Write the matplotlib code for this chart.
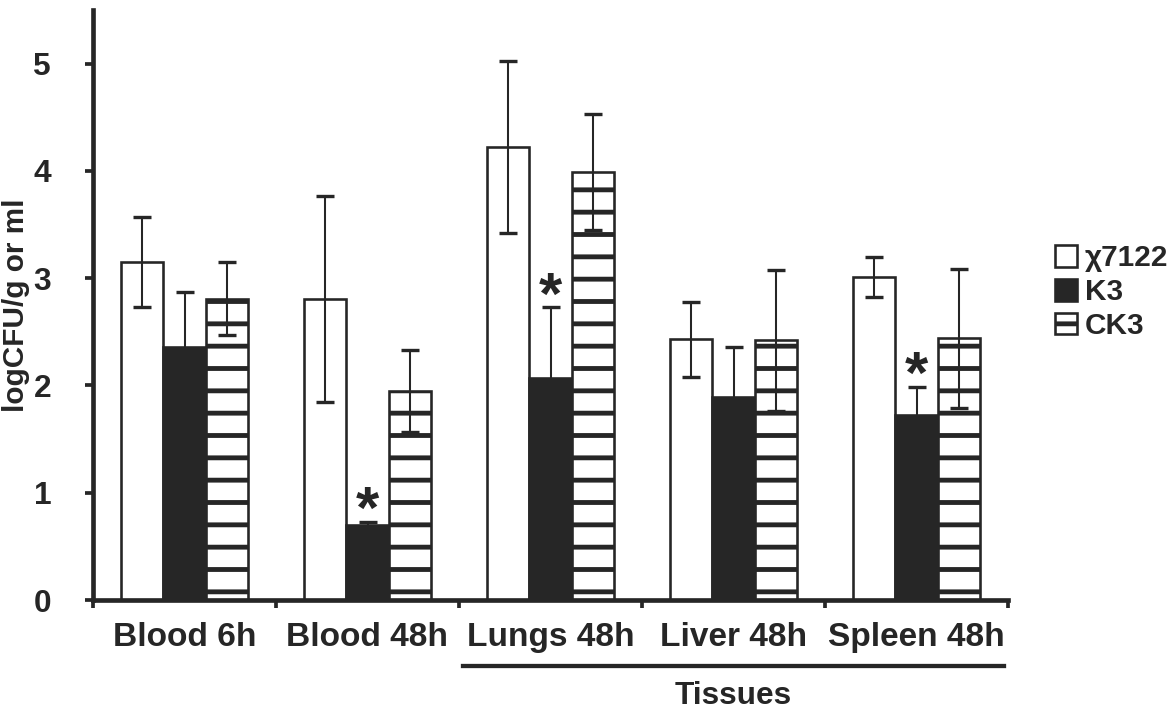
import matplotlib
matplotlib.use('Agg')
import matplotlib.pyplot as plt
import matplotlib.transforms as mtrans
import numpy as np

# data (logCFU/g or ml, mean and error)
categories = ['Blood 6h', 'Blood 48h', 'Lungs 48h', 'Liver 48h', 'Spleen 48h']
strains = ['χ7122', 'K3', 'CK3']

wt_mean = [3.15, 2.81, 4.22, 2.43, 3.01]
wt_err = [0.42, 0.96, 0.80, 0.35, 0.19]
k3_mean = [2.36, 0.70, 2.07, 1.89, 1.72]
k3_err = [0.51, 0.03, 0.66, 0.47, 0.27]
ck3_mean = [2.81, 1.95, 3.99, 2.42, 2.44]
ck3_err = [0.34, 0.38, 0.54, 0.66, 0.65]

signif = [False, True, True, False, True]   # star above K3 bar
yticks = [0, 1, 2, 3, 4, 5]
tissues = categories[2:]

ink = '#262626'
DPI = 134

plt.rcParams['font.family'] = ['Liberation Sans', 'DejaVu Sans']
plt.rcParams['font.weight'] = 'bold'
plt.rcParams['hatch.linewidth'] = 2.6

fig = plt.figure(figsize=(1176 / DPI, 710 / DPI), dpi=DPI)
ax = fig.add_axes([93 / 1176, 1 - 600 / 710, (1008 - 93) / 1176, 590 / 710])

x = np.arange(len(categories))
w = 0.23
means = [wt_mean, k3_mean, ck3_mean]
errs = [wt_err, k3_err, ck3_err]
faces = ['white', ink, 'white']
hatches = [None, None, '-']

for i in range(3):
    pos = x + (i - 1) * w
    ax.bar(pos, means[i], w, facecolor=faces[i], edgecolor=ink, linewidth=1.4,
           hatch=hatches[i], label=strains[i], zorder=2)
    ax.errorbar(pos, means[i], yerr=errs[i], fmt='none', ecolor=ink,
                elinewidth=1.1, capsize=5, capthick=1.8, zorder=3)

# significance stars over the K3 bars
for xi, s, m, e in zip(x, signif, k3_mean, k3_err):
    if s:
        ax.text(xi, m + e - 0.17, '*', ha='center', va='bottom',
                fontsize=32, color=ink, zorder=4)

ax.set_xlim(-0.5, len(categories) - 0.5)
ax.set_ylim(0, 5.5)
for sp in ['top', 'right']:
    ax.spines[sp].set_visible(False)
for sp in ['left', 'bottom']:
    ax.spines[sp].set_linewidth(2.5)
    ax.spines[sp].set_color(ink)

ax.set_xticks(np.arange(-0.5, len(categories), 1))
ax.set_xticklabels([])
ax.set_xticks(x, minor=True)
ax.set_xticklabels(categories, minor=True)
ax.tick_params(axis='x', which='major', length=4.5, width=2, color=ink)
ax.tick_params(axis='x', which='minor', length=0, pad=12, labelsize=18,
               labelcolor=ink)
ax.set_yticks(yticks)
ax.tick_params(axis='y', length=4.5, width=2, color=ink, pad=18,
               labelsize=17, labelcolor=ink)
ax.set_ylabel('logCFU/g or ml', fontsize=16, fontweight='bold', color=ink,
              labelpad=2)

# "Tissues" bracket under the last three groups
trans = mtrans.blended_transform_factory(ax.transData, ax.transAxes)
x0 = categories.index(tissues[0]) - 0.48
x1 = categories.index(tissues[-1]) + 0.48
ax.plot([x0, x1], [-0.112, -0.112], transform=trans, clip_on=False,
        color=ink, lw=2.3)
ax.text((x0 + x1) / 2, -0.162, 'Tissues', transform=trans, ha='center',
        va='center', fontsize=17, color=ink)

fig.legend(loc='center left', bbox_to_anchor=(1028 / 1176, 1 - 292 / 710),
           frameon=False, handlelength=0.75, handleheight=0.75,
           handletextpad=0.25, labelspacing=0.2, fontsize=16,
           labelcolor=ink)

fig.savefig('out.png', dpi=DPI)
